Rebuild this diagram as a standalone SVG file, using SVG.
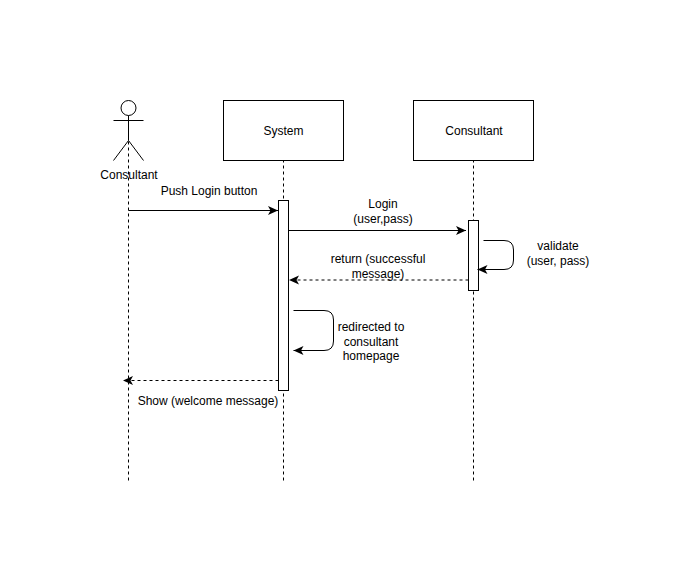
<svg xmlns="http://www.w3.org/2000/svg" width="694" height="582" viewBox="0 0 694 582">
<style>
text{font-family:"Liberation Sans",Arial,sans-serif;font-size:12px;fill:#000;text-anchor:middle}
.s{fill:none;stroke:#000;stroke-width:1}
.b{fill:#fff;stroke:#000;stroke-width:1}
.l{fill:none;stroke:#000;stroke-width:1;stroke-dasharray:3 3}
</style>
<defs>
<marker id="a" markerUnits="userSpaceOnUse" markerWidth="12" markerHeight="10" refX="10" refY="5" orient="auto"><path d="M0,.5 L10,5 L0,9.500 L2.500,5 Z" fill="#000"/></marker>
</defs>
<rect width="694" height="582" fill="#fff"/>
<g id="lifelines">
<path class="l" d="M128.500 141.500V480.500"/>
<path class="l" d="M283.500 159.500V480.500"/>
<path class="l" d="M473.500 159.500V480.500"/>
</g>
<g id="actor">
<circle class="s" cx="128.500" cy="108" r="7.500"/>
<path class="s" d="M128.500 115.500V140.500M113.500 120.500H143.500M128.500 140.500L113.500 160.500M128.500 140.500L143.500 160.500"/>
<text x="129" y="179">Consultant</text>
</g>
<g id="system"><rect class="b" x="223.500" y="100.500" width="120" height="60"/><text x="283.500" y="135">System</text></g>
<g id="consultant"><rect class="b" x="413.500" y="100.500" width="120" height="60"/><text x="474" y="135">Consultant</text></g>
<g id="activation-system"><rect class="b" x="278.500" y="200.500" width="10" height="190"/></g>
<g id="activation-consultant"><rect class="b" x="468.500" y="220.500" width="10" height="70"/></g>
<g id="connectors">
<path class="s" marker-end="url(#a)" d="M128.500 210.500H278"/>
<path class="s" marker-end="url(#a)" d="M288.500 230.500H466"/>
<path class="s" marker-end="url(#a)" d="M483.500 240.500H504Q513.500 240.500 513.500 250V260Q513.500 269.500 504 269.500H477.500"/>
<path class="l" marker-end="url(#a)" d="M468.500 280H289"/>
<path class="s" marker-end="url(#a)" d="M293.500 310.500H324Q333.500 310.500 333.500 320V341Q333.500 350.500 324 350.500H293.500"/>
<path class="l" marker-end="url(#a)" d="M278.500 380.500H123"/>
</g>
<g id="labels">
<text x="209" y="195">Push Login button</text>
<text x="383" y="208">Login</text>
<text x="383" y="223">(user,pass)</text>
<text x="558" y="250">validate</text>
<text x="558" y="265">(user, pass)</text>
<text x="378" y="263">return (successful</text>
<text x="378" y="278">message)</text>
<text x="371" y="331">redirected to</text>
<text x="371" y="346">consultant</text>
<text x="371" y="360">homepage</text>
<text x="208" y="405">Show (welcome message)</text>
</g>
</svg>
